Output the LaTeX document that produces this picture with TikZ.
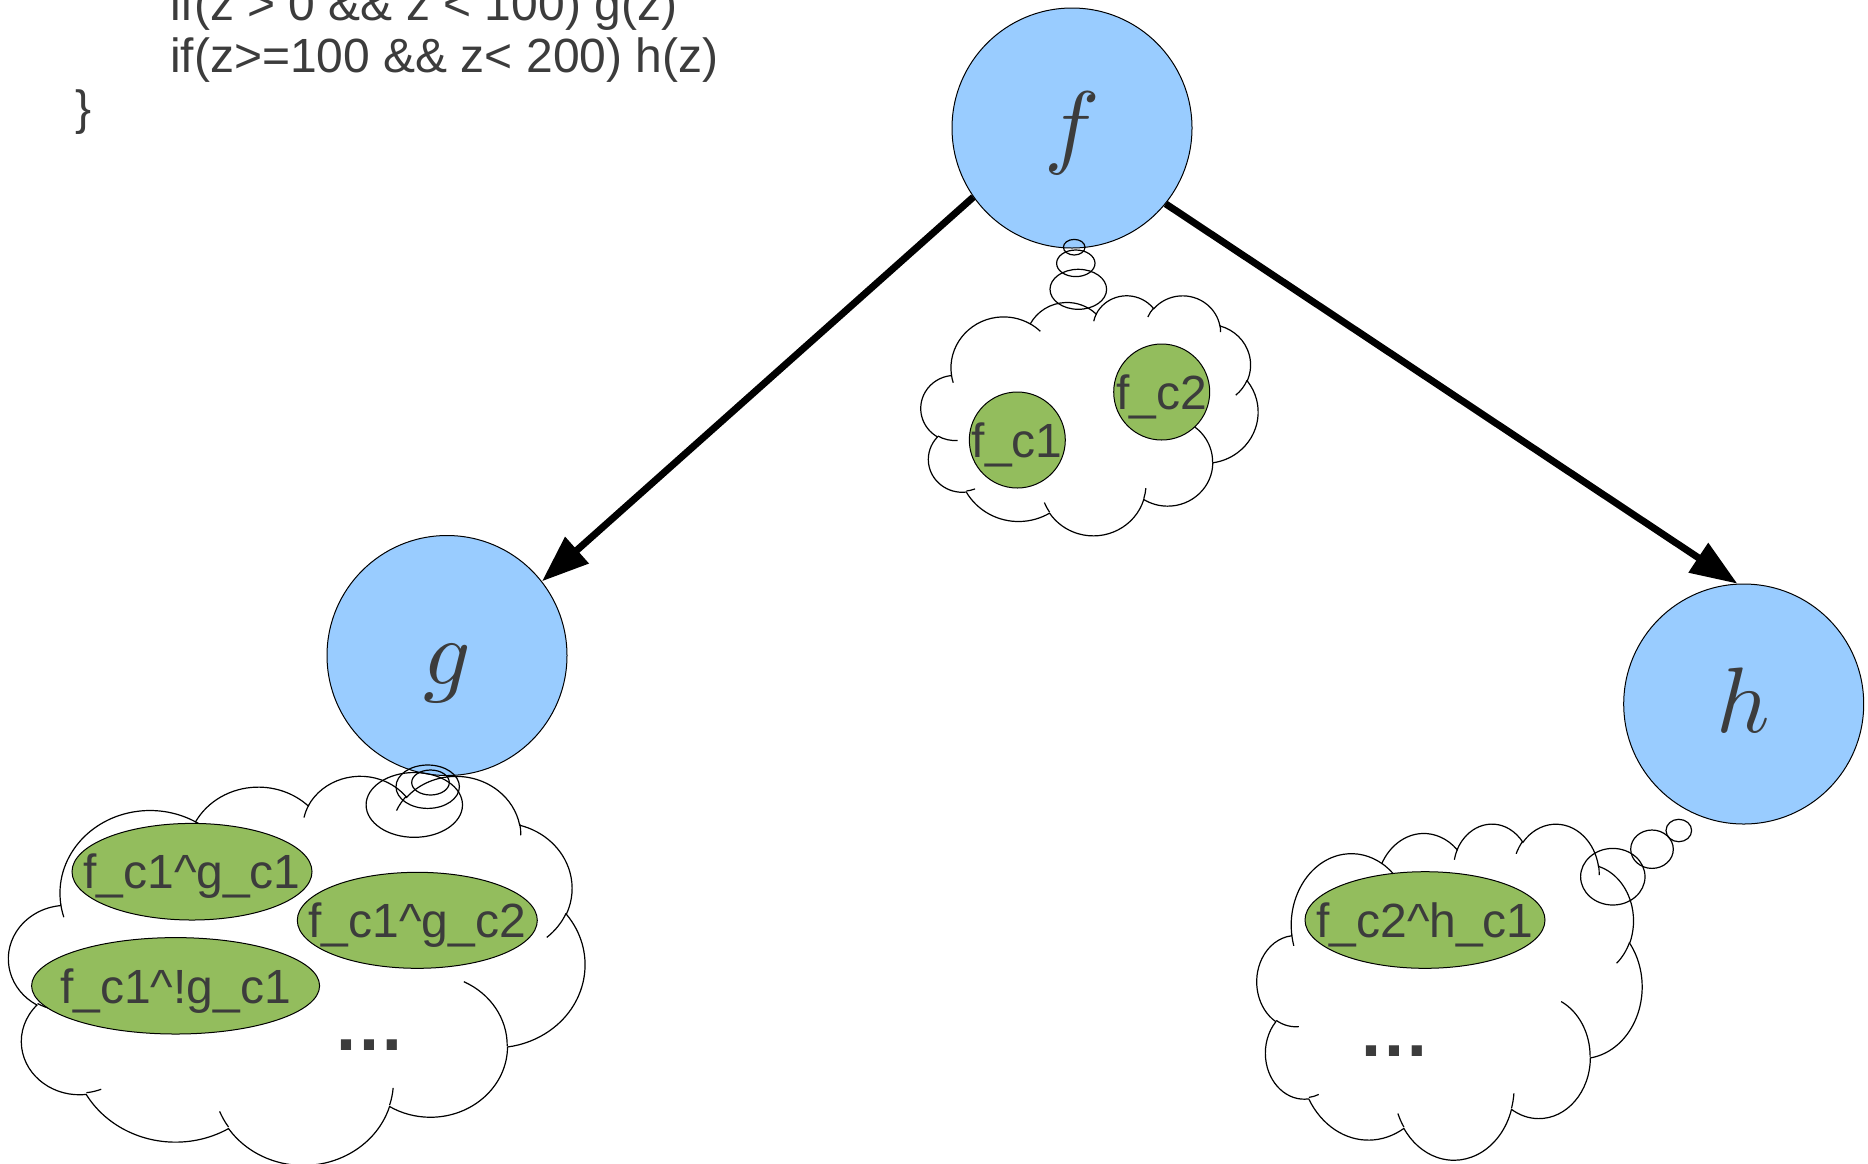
\RequirePackage{fix-cm}
\documentclass[tikz,border=0pt]{standalone}
\usepackage{graphicx}
\usepackage[no-math]{fontspec}
\setmainfont{Liberation Sans}
\usetikzlibrary{arrows.meta,shapes.geometric}

\definecolor{nodeblue}{HTML}{99CCFF}
\definecolor{leafgreen}{HTML}{93BD5D}
\definecolor{ink}{HTML}{3C3C3C}

% Cloud outline in a 432 x 432 box (y pointing down); every puff is an
% elliptic arc given by its parametric start angle and sweep.
\newcommand\cloudoutline{(39,143.7)
  arc[start angle=-187.746,delta angle=128.12, x radius=67.53,y radius=91.90]
  arc[start angle=-152.025,delta angle=106.572,x radius=53.33,y radius=72.67]
  arc[start angle=-153.488,delta angle=116.167,x radius=43.65,y radius=59.45]
  arc[start angle=-139.713,delta angle=129.502,x radius=48.57,y radius=65.95]
  arc[start angle=-74.768, delta angle=97.981, x radius=53.33,y radius=72.73]
  arc[start angle=-37.527, delta angle=119.389,x radius=67.75,y radius=92.20]
  arc[start angle=0.4596,  delta angle=121.516,x radius=57.85,y radius=78.67]
  arc[start angle=16.845,  delta angle=129.39, x radius=67.52,y radius=92.15]
  arc[start angle=58.985,  delta angle=91.22,  x radius=77.20,y radius=105.43]
  arc[start angle=83.306,  delta angle=139.803,x radius=43.60,y radius=59.18]
  arc[start angle=120.36,  delta angle=143.752,x radius=43.45,y radius=59.45]
  -- cycle}

% Short inner strokes where neighbouring puffs overlap
\newcommand\cloudcreases{
  (46.93,261.77) arc[start angle=85.546, delta angle=34.814,x radius=43.45,y radius=59.45]
  (69.28,348.99) arc[start angle=68.234, delta angle=15.072,x radius=43.60,y radius=59.18]
  (164.78,390.90) arc[start angle=146.235,delta angle=12.238,x radius=67.52,y radius=92.15]
  (288.27,347.51) arc[start angle=4.738,  delta angle=12.107,x radius=67.52,y radius=92.15]
  (341.29,229.54) arc[start angle=-64.027,delta angle=64.487,x radius=57.85,y radius=78.67]
  (417.98,153.54) arc[start angle=23.213, delta angle=26.438,x radius=53.33,y radius=72.73]
  (383.24,54.26) arc[start angle=-10.211, delta angle=11.032,x radius=48.57,y radius=65.95]
  (290.78,39.52) arc[start angle=-156.288,delta angle=16.575,x radius=48.57,y radius=65.95]
  (221.41,47.20) arc[start angle=-167.726,delta angle=14.238,x radius=43.65,y radius=59.45]
  (140.00,51.92) arc[start angle=-59.63,  delta angle=13.896,x radius=67.53,y radius=91.90]
  (41.27,157.89) arc[start angle=163.19,  delta angle=9.064, x radius=67.53,y radius=91.90]}

% #1,#2: top-left corner, #3 x #4: size
\newcommand\thoughtcloud[4]{%
  \begin{scope}[shift={(#1,#2)}, xscale=#3/432, yscale=#4/432]
    \draw[cloudline, fill=white] \cloudoutline;
    \draw[cloudline] \cloudcreases;
  \end{scope}}

% large function name, set at 10pt and enlarged
\newcommand\fname[1]{\scalebox{9.3}{$#1$}}

\begin{document}
\begin{tikzpicture}[x=1pt, y=1pt, yscale=-1,
  cloudline/.style={draw=black, line width=1.2pt},
  bubble/.style={draw=black, line width=1.2pt},
  bigcirc/.style={circle, draw=black, line width=1pt, fill=nodeblue,
    minimum size=240pt, inner sep=0pt, text=ink,
    font=\fontsize{10}{12}\selectfont, text height=60pt, text depth=3pt},
  greenell/.style={ellipse, draw=black, line width=1pt, fill=leafgreen,
    inner xsep=-70pt, inner ysep=0pt, text=ink,
    font=\fontsize{48}{58}\selectfont, text height=36pt, text depth=1.6pt},
  greencirc/.style={circle, draw=black, line width=1pt, fill=leafgreen,
    minimum size=96pt, inner sep=-8pt, text=ink,
    font=\fontsize{48}{58}\selectfont, text height=36pt, text depth=1.6pt},
  codetext/.style={anchor=base west, inner sep=0pt, text=ink,
    font=\fontsize{48}{58}\selectfont},
  moretext/.style={anchor=base, inner sep=0pt, text=ink,
    font=\bfseries\fontsize{72}{86}\selectfont},
  flow/.style={draw=black, line width=7pt, -{Triangle[length=47pt, width=34pt]}}]

\fill[white] (0,0) rectangle (1868,1163);
\useasboundingbox (0,0) rectangle (1868,1163);

% program fragment
\node[codetext] (line1) at (170,20.7) {if(z > 0 \&\& z < 100) g(z)};
\node[codetext] (line2) at (170,72.7) {if(z>=100 \&\& z< 200) h(z)};
\node[codetext] (line3) at (75,124.7) {\}};

% thought clouds
\thoughtcloud{921}{295}{337}{240}
\thoughtcloud{8.8}{775}{576}{389}
\thoughtcloud{1257}{823}{385}{336}

% functions
\node[bigcirc] (f) at (1072,128) {\fname{f}};
\node[bigcirc] (g) at (447,655.5) {\fname{g}};
\node[bigcirc] (h) at (1743.7,704) {\fname{h}};

\draw[flow] (f.215) -- (g.38);
\draw[flow] (f.-39) -- (h.93);

% bubbles leading from each function to its cloud
\draw[bubble] (1074.2,247.2) ellipse [x radius=10.8, y radius=7.8];
\draw[bubble] (1075.8,263.3) ellipse [x radius=19.2, y radius=13.3];
\draw[bubble] (1078.3,289.3) ellipse [x radius=28.3, y radius=20];

\draw[bubble] (430.5,782.5) ellipse [x radius=18.8, y radius=12.5];
\draw[bubble] (427.7,786.7) ellipse [x radius=31.7, y radius=21.7];
\draw[bubble] (414.3,804.9) ellipse [x radius=48.2, y radius=32.4];

\draw[bubble] (1678.8,830.5) ellipse [x radius=12.8, y radius=11.2];
\draw[bubble] (1652,849.2) ellipse [x radius=21.3, y radius=19.2];
\draw[bubble] (1612.8,876.7) ellipse [x radius=32.2, y radius=28.3];

% conditions held in each cloud
\node[greencirc] (fc1) at (1017.3,440) {f\_c1};
\node[greencirc] (fc2) at (1161.7,392) {f\_c2};

\node[greenell, minimum width=240pt, minimum height=96.6pt] (gc1) at (192,871.7) {f\_c1\textasciicircum g\_c1};
\node[greenell, minimum width=240pt, minimum height=96pt] (gc2) at (417.3,920.3) {f\_c1\textasciicircum g\_c2};
\node[greenell, minimum width=288pt, minimum height=96.4pt] (gn1) at (175.6,985.8) {f\_c1\textasciicircum !g\_c1};
\node[moretext] (gmore) at (369.5,1050.7) {…};

\node[greenell, minimum width=240pt, minimum height=96.6pt] (hc1) at (1425,920) {f\_c2\textasciicircum h\_c1};
\node[moretext] (hmore) at (1394.7,1056) {…};

\end{tikzpicture}
\end{document}
